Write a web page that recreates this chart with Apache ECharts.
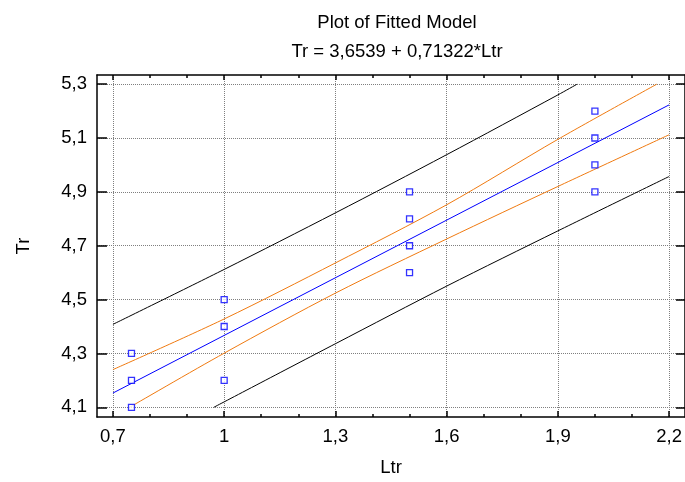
<!DOCTYPE html>
<html>
<head>
<meta charset="utf-8">
<script src="https://cdn.jsdelivr.net/npm/echarts@6/dist/echarts.min.js"></script>
<style>html,body{margin:0;padding:0;background:#fff}#c{width:685px;height:482px}</style>
</head>
<body>
<div id="c"></div>
<script>
// Observations
const obsPoints = [
  [0.75, 4.1], [0.75, 4.2], [0.75, 4.3],
  [1.0, 4.2], [1.0, 4.4], [1.0, 4.5],
  [1.5, 4.6], [1.5, 4.7], [1.5, 4.8], [1.5, 4.9],
  [2.0, 4.9], [2.0, 5.0], [2.0, 5.1], [2.0, 5.2]
];
// Fitted line
const fitLine = [[0.7, 4.153], [2.2, 5.223]];
// Confidence limits (orange)
const confUpper = [[0.7, 4.240], [1.0, 4.428], [1.3, 4.636], [1.6, 4.852], [1.9, 5.095], [2.167, 5.3]];
const confLower = [[0.745, 4.1], [1.0, 4.301], [1.3, 4.524], [1.6, 4.725], [1.9, 4.920], [2.2, 5.112]];
// Prediction limits (black)
const predUpper = [[0.7, 4.408], [1.0, 4.612], [1.3, 4.822], [1.6, 5.038], [1.9, 5.260], [1.952, 5.3]];
const predLower = [[0.972, 4.1], [1.3, 4.336], [1.6, 4.550], [1.9, 4.755], [2.2, 4.957]];

const xMajor = [0.7, 1.0, 1.3, 1.6, 1.9, 2.2];
const xMinor = [0.8, 0.9, 1.1, 1.2, 1.4, 1.5, 1.7, 1.8, 2.0, 2.1];
const yMajor = [4.1, 4.3, 4.5, 4.7, 4.9, 5.1, 5.3];

const FONT = 'Liberation Sans, Arial, sans-serif';
const FS = 18.5;
const fmt = v => {
  const s = (Math.round(v * 10) / 10).toString();
  return s.replace('.', ',');
};
const X_MIN = 0.657, X_MAX = 2.243, Y_MIN = 4.064, Y_MAX = 5.334;

function xAxisDef(opts) {
  return Object.assign({
    type: 'value', min: X_MIN, max: X_MAX, gridIndex: 0,
    axisLine: { show: true, onZero: false, lineStyle: { color: '#000', width: 1.5 } },
    splitLine: { show: false },
    axisLabel: { show: false }
  }, opts);
}
function yAxisDef(opts) {
  return Object.assign({
    type: 'value', min: Y_MIN, max: Y_MAX, gridIndex: 0,
    axisLine: { show: true, onZero: false, lineStyle: { color: '#000', width: 1.5 } },
    splitLine: { show: false },
    axisLabel: { show: false }
  }, opts);
}

const chart = echarts.init(document.getElementById('c'), null, { renderer: 'canvas' });
chart.setOption({
  animation: false,
  backgroundColor: '#fff',
  textStyle: { fontFamily: FONT },
  title: [
    { text: 'Plot of Fitted Model', left: 392, textAlign: 'center', top: 8,
      textStyle: { fontFamily: FONT, fontSize: FS, fontWeight: 'normal', color: '#000' } },
    { text: 'Tr = 3,6539 + 0,71322*Ltr', left: 392, textAlign: 'center', top: 37,
      textStyle: { fontFamily: FONT, fontSize: FS, fontWeight: 'normal', color: '#000' } }
  ],
  grid: { left: 97, top: 75, width: 590, bottom: 64, containLabel: false },
  xAxis: [
    xAxisDef({
      position: 'bottom',
      name: 'Ltr', nameLocation: 'middle', nameGap: 41,
      nameTextStyle: { fontFamily: FONT, fontSize: FS, color: '#000' },
      axisTick: { show: true, inside: true, length: 6, customValues: xMajor, lineStyle: { color: '#000', width: 1.5 } },
      axisLabel: { show: true, customValues: xMajor, margin: 10, formatter: fmt,
        fontFamily: FONT, fontSize: FS, color: '#000' },
      splitLine: { show: true, lineStyle: { color: '#7f7f7f', type: [1, 1], width: 1 } }
    }),
    xAxisDef({
      position: 'bottom',
      axisLine: { show: false },
      axisTick: { show: true, inside: true, length: 3, customValues: xMinor, lineStyle: { color: '#000', width: 1.5 } }
    }),
    xAxisDef({
      position: 'top',
      axisTick: { show: true, inside: true, length: 5, customValues: xMajor, lineStyle: { color: '#000', width: 1.5 } }
    }),
    xAxisDef({
      position: 'top',
      axisLine: { show: false },
      axisTick: { show: true, inside: true, length: 3, customValues: xMinor, lineStyle: { color: '#000', width: 1.5 } }
    })
  ],
  yAxis: [
    yAxisDef({
      position: 'left',
      name: 'Tr', nameLocation: 'middle', nameGap: 64, nameRotate: 90,
      nameTextStyle: { fontFamily: FONT, fontSize: FS, color: '#000' },
      axisTick: { show: true, inside: true, length: 10, customValues: yMajor, lineStyle: { color: '#000', width: 1.5 } },
      axisLabel: { show: true, customValues: yMajor, margin: 10, formatter: fmt,
        fontFamily: FONT, fontSize: FS, color: '#000' },
      splitLine: { show: true, lineStyle: { color: '#7f7f7f', type: [1, 1], width: 1 } }
    }),
    yAxisDef({
      position: 'right',
      axisTick: { show: true, inside: true, length: 9, customValues: yMajor, lineStyle: { color: '#000', width: 1.5 } }
    })
  ],
  series: [
    { type: 'line', data: predUpper, xAxisIndex: 0, yAxisIndex: 0, symbol: 'none', smooth: 0.3,
      lineStyle: { color: '#000', width: 1 }, z: 3 },
    { type: 'line', data: predLower, xAxisIndex: 0, yAxisIndex: 0, symbol: 'none', smooth: 0.3,
      lineStyle: { color: '#000', width: 1 }, z: 3 },
    { type: 'line', data: confUpper, xAxisIndex: 0, yAxisIndex: 0, symbol: 'none', smooth: 0.3,
      lineStyle: { color: '#f07a10', width: 1 }, z: 3 },
    { type: 'line', data: confLower, xAxisIndex: 0, yAxisIndex: 0, symbol: 'none', smooth: 0.3,
      lineStyle: { color: '#f07a10', width: 1 }, z: 3 },
    { type: 'line', data: fitLine, xAxisIndex: 0, yAxisIndex: 0, symbol: 'none',
      lineStyle: { color: '#0000ff', width: 1 }, z: 3 },
    { type: 'scatter', data: obsPoints, xAxisIndex: 0, yAxisIndex: 0, symbol: 'rect', symbolSize: 6,
      itemStyle: { color: '#fff', borderColor: '#0000ff', borderWidth: 1.3 }, z: 5 }
  ]
});
</script>
</body>
</html>
